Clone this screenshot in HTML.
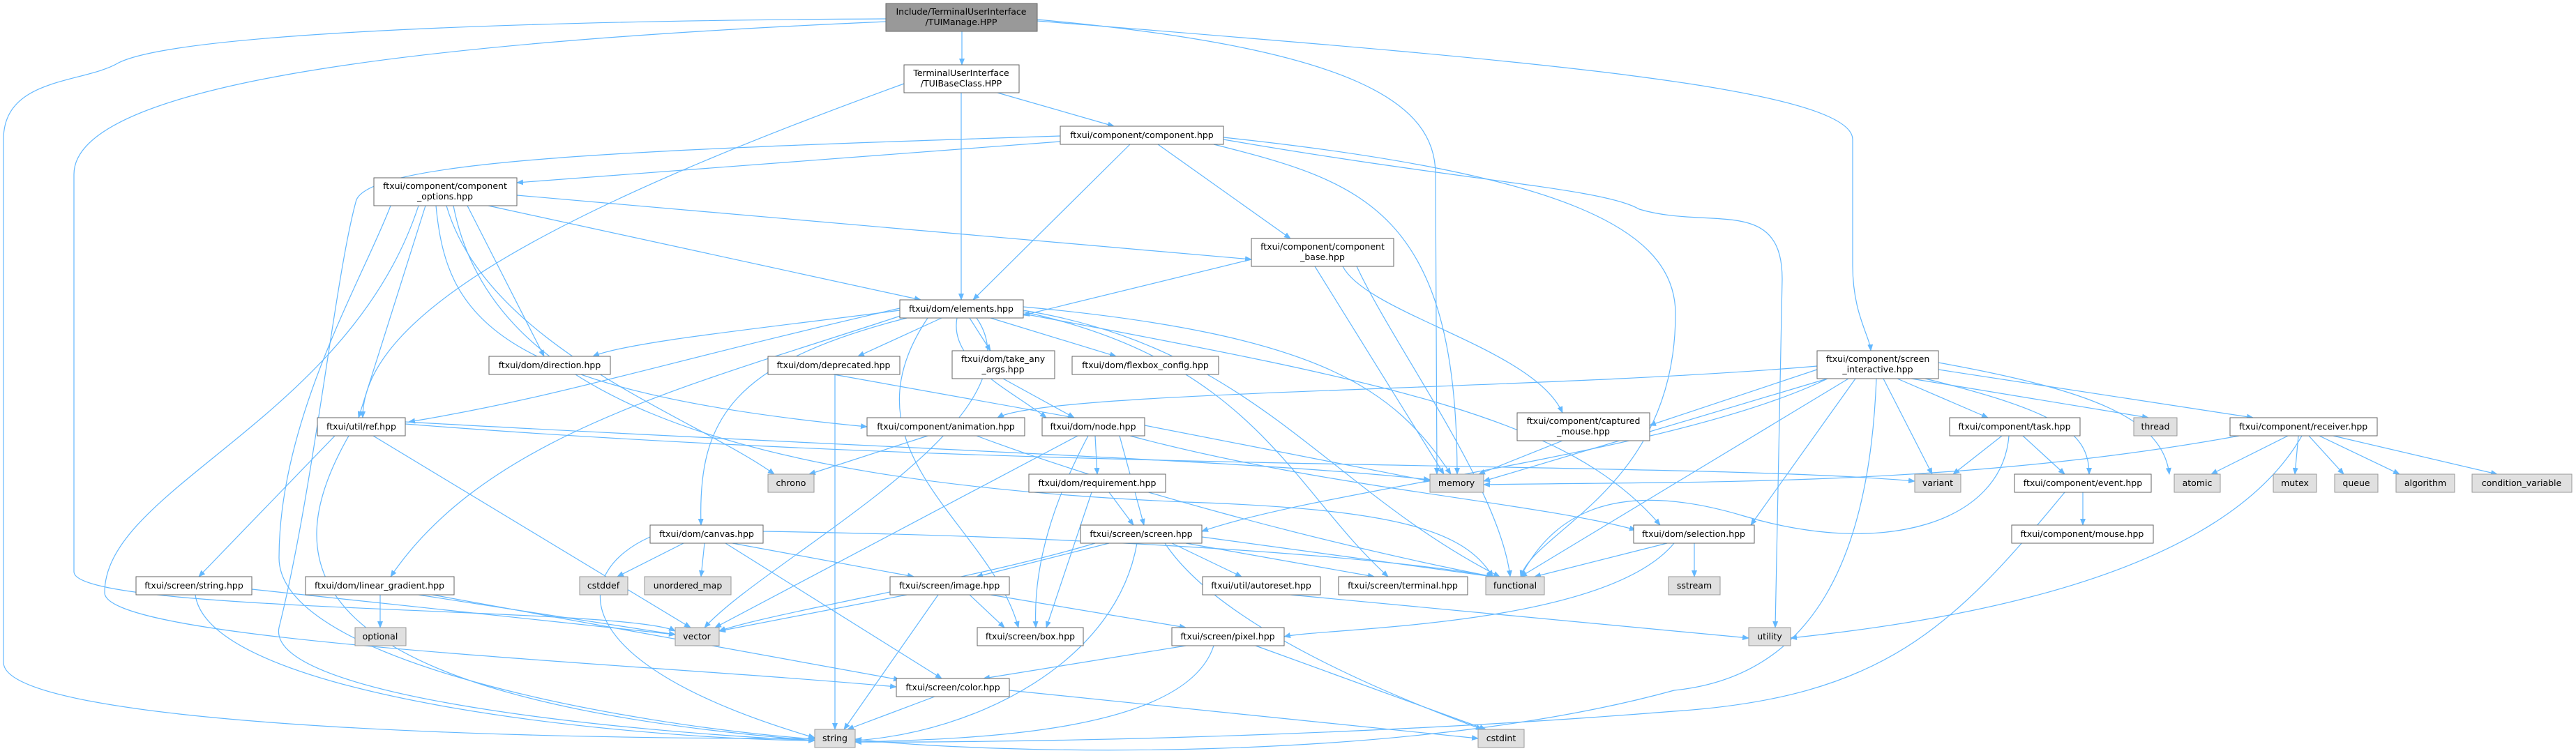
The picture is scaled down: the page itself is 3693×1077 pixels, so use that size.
<!DOCTYPE html>
<html><head><meta charset="utf-8"><style>
html,body{margin:0;padding:0;background:#fff;}
svg{display:block;}
text{font-family:"DejaVu Sans","Liberation Sans",sans-serif;font-size:12.5px;fill:#000;text-anchor:middle;}
.e{fill:none;stroke:#63b8ff;stroke-width:1.2;marker-end:url(#a);}
.n{fill:#fff;stroke:#666;stroke-width:1;}
.x{fill:#e0e0e0;stroke:#999;stroke-width:1;}
.m{fill:#999;stroke:#666;stroke-width:1;}
</style></head><body>
<svg width="3693" height="1077" viewBox="0 0 3693 1077" xmlns="http://www.w3.org/2000/svg">
<defs><marker id="a" markerWidth="10" markerHeight="8" refX="9" refY="4" orient="auto" markerUnits="userSpaceOnUse"><path d="M0,0 L10,4 L0,8 z" fill="#63b8ff"/></marker></defs>
<g>
<path class="e" d="M1379,45 L1379,93"/>
<path class="e" d="M1271,27 C700,30 250,50 170,90 C120,120 5,110 5,200 L5,950 C5,1030 600,1060 1168,1059"/>
<path class="e" d="M1271,31 C600,60 106,120 106,250 L106,820 C106,880 900,870 968,905"/>
<path class="e" d="M1487,28 C1950,70 2058,150 2058,250 L2060,680"/>
<path class="e" d="M1487,30 C2100,80 2656,120 2656,200 L2656,380 C2656,450 2680,480 2682,503"/>
<path class="e" d="M1430,133 L1597,181"/>
<path class="e" d="M1378,133 L1378,430"/>
<path class="e" d="M1296,120 C800,300 520,450 520,599"/>
<path class="e" d="M1520,203 L741,262"/>
<path class="e" d="M1620,207 L1395,430"/>
<path class="e" d="M1660,207 L1850,342"/>
<path class="e" d="M1520,195 C900,215 520,230 510,290 C480,400 450,700 400,900 C380,1000 900,1050 1168,1062"/>
<path class="e" d="M1740,207 C1950,260 2089,300 2089,680"/>
<path class="e" d="M1754,197 C2250,250 2402,330 2402,450 C2402,700 2200,760 2180,827"/>
<path class="e" d="M1754,200 C2100,260 2300,270 2350,300 C2450,330 2555,280 2555,400 L2545,900"/>
<path class="e" d="M741,280 L1794,372"/>
<path class="e" d="M700,295 L1320,430"/>
<path class="e" d="M670,295 L780,511"/>
<path class="e" d="M610,295 L514,599"/>
<path class="e" d="M625,295 C640,450 700,560 1243,612"/>
<path class="e" d="M640,295 C700,500 1000,600 1110,680"/>
<path class="e" d="M650,295 C700,550 1000,690 1700,720 C2000,730 2100,760 2140,827"/>
<path class="e" d="M560,295 C520,400 400,600 400,800 C400,950 900,1040 1168,1060"/>
<path class="e" d="M600,295 C500,600 150,700 150,850 C150,920 900,950 1285,985"/>
<path class="e" d="M1794,372 L1467,452"/>
<path class="e" d="M1925,382 C1960,450 2200,500 2240,592"/>
<path class="e" d="M1885,382 L2070,680"/>
<path class="e" d="M1945,382 C2000,500 2150,700 2165,827"/>
<path class="e" d="M1290,445 C1100,470 900,490 850,511"/>
<path class="e" d="M1350,456 L1230,511"/>
<path class="e" d="M1390,456 L1420,503"/>
<path class="e" d="M1420,456 L1600,511"/>
<path class="e" d="M1372,456 C1360,520 1450,560 1500,599"/>
<path class="e" d="M1290,442 C950,520 800,570 586,605"/>
<path class="e" d="M1300,456 C1050,520 1000,600 1005,753"/>
<path class="e" d="M1300,450 C1000,550 700,620 560,827"/>
<path class="e" d="M1330,456 C1200,650 1420,750 1460,900"/>
<path class="e" d="M1467,440 C1900,480 2000,560 2080,680"/>
<path class="e" d="M1467,445 C1800,500 1900,700 2150,827"/>
<path class="e" d="M1467,447 C1800,520 1850,700 1990,827"/>
<path class="e" d="M1400,456 C1500,600 1100,800 1010,900"/>
<path class="e" d="M1467,450 C2000,550 2250,600 2380,753"/>
<path class="e" d="M1195,537 L1540,599"/>
<path class="e" d="M1197,537 L1197,1046"/>
<path class="e" d="M1438,543 L1540,599"/>
<path class="e" d="M2605,530 L2365,610"/>
<path class="e" d="M2620,543 L2127,690"/>
<path class="e" d="M2720,543 L2850,599"/>
<path class="e" d="M2740,543 L3080,599"/>
<path class="e" d="M2779,530 L3230,599"/>
<path class="e" d="M2700,543 L2770,680"/>
<path class="e" d="M2760,543 C2950,590 2995,620 2995,680"/>
<path class="e" d="M2779,520 C3000,560 3100,600 3110,680"/>
<path class="e" d="M2660,543 L2510,753"/>
<path class="e" d="M2650,543 L2180,827"/>
<path class="e" d="M2690,543 C2680,800 2600,970 2400,990 C2000,1100 1400,1080 1226,1060"/>
<path class="e" d="M2605,525 C2200,560 1500,560 1430,599"/>
<path class="e" d="M2620,543 C2400,650 1900,700 1723,762"/>
<path class="e" d="M480,625 L285,827"/>
<path class="e" d="M500,625 C400,800 400,1000 1168,1062"/>
<path class="e" d="M535,625 L990,900"/>
<path class="e" d="M581,605 C1200,640 1800,660 2050,688"/>
<path class="e" d="M581,608 C1500,680 2400,660 2745,690"/>
<path class="e" d="M1330,625 L1160,680"/>
<path class="e" d="M1400,625 C1600,700 1900,780 2140,827"/>
<path class="e" d="M1570,625 L1573,680"/>
<path class="e" d="M1605,625 L1640,753"/>
<path class="e" d="M1560,625 C1520,700 1480,800 1485,900"/>
<path class="e" d="M1545,625 L1025,900"/>
<path class="e" d="M1641,610 C1800,640 1950,670 2050,690"/>
<path class="e" d="M1620,625 C1900,700 2200,720 2345,760"/>
<path class="e" d="M1590,706 L1625,753"/>
<path class="e" d="M1565,706 L1500,900"/>
<path class="e" d="M980,779 L885,827"/>
<path class="e" d="M1010,779 L1005,827"/>
<path class="e" d="M1050,779 L1310,827"/>
<path class="e" d="M1040,779 L1350,973"/>
<path class="e" d="M932,770 C820,820 800,950 1168,1058"/>
<path class="e" d="M1094,762 C1600,770 2000,800 2140,827"/>
<path class="e" d="M1590,779 L1400,827"/>
<path class="e" d="M1570,779 C1400,830 1100,880 1031,905"/>
<path class="e" d="M1630,779 C1600,950 1400,1050 1226,1062"/>
<path class="e" d="M1680,779 L1780,827"/>
<path class="e" d="M1700,779 L1970,827"/>
<path class="e" d="M1723,770 L2140,827"/>
<path class="e" d="M1670,779 C1750,900 2000,1000 2125,1046"/>
<path class="e" d="M280,853 C300,1000 900,1060 1168,1062"/>
<path class="e" d="M361,845 L968,910"/>
<path class="e" d="M545,853 L545,900"/>
<path class="e" d="M600,853 L968,910"/>
<path class="e" d="M620,853 L1290,975"/>
<path class="e" d="M1300,853 L1031,905"/>
<path class="e" d="M1390,853 L1440,900"/>
<path class="e" d="M1420,853 L1700,900"/>
<path class="e" d="M1345,853 L1210,1046"/>
<path class="e" d="M1850,853 L2507,915"/>
<path class="e" d="M1700,926 L1410,973"/>
<path class="e" d="M1740,926 C1700,1050 1400,1060 1226,1064"/>
<path class="e" d="M1800,926 L2130,1046"/>
<path class="e" d="M1340,999 L1215,1046"/>
<path class="e" d="M1447,990 L2119,1059"/>
<path class="e" d="M2429,779 L2429,827"/>
<path class="e" d="M2390,779 L2200,827"/>
<path class="e" d="M2400,779 C2300,900 1900,900 1841,913"/>
<path class="e" d="M2870,625 L2800,680"/>
<path class="e" d="M2900,625 L2960,680"/>
<path class="e" d="M2880,625 C2870,750 2700,800 2500,740 C2300,680 2220,750 2180,827"/>
<path class="e" d="M3210,625 C2800,700 2400,690 2127,695"/>
<path class="e" d="M3280,625 L3170,680"/>
<path class="e" d="M3295,625 L3290,680"/>
<path class="e" d="M3310,625 L3360,680"/>
<path class="e" d="M3325,625 L3440,680"/>
<path class="e" d="M3345,625 L3580,680"/>
<path class="e" d="M3300,625 C3200,800 2900,880 2567,915"/>
<path class="e" d="M2986,706 L2986,753"/>
<path class="e" d="M2960,706 C2800,900 2700,1000 2400,1020 C1900,1060 1400,1065 1226,1064"/>
<path class="e" d="M2240,632 L2120,680"/>
</g>
<g>
<rect class="m" x="1270" y="5" width="217" height="40"/><text x="1378" y="21">Include/TerminalUserInterface</text><text x="1378" y="36">/TUIManage.HPP</text>
<rect class="n" x="1296" y="93" width="165" height="40"/><text x="1378" y="109">TerminalUserInterface</text><text x="1378" y="124">/TUIBaseClass.HPP</text>
<rect class="n" x="1520" y="181" width="234" height="26"/><text x="1637" y="198">ftxui/component/component.hpp</text>
<rect class="n" x="536" y="255" width="205" height="40"/><text x="638" y="271">ftxui/component/component</text><text x="638" y="286">_options.hpp</text>
<rect class="n" x="1794" y="342" width="204" height="40"/><text x="1896" y="358">ftxui/component/component</text><text x="1896" y="373">_base.hpp</text>
<rect class="n" x="1290" y="430" width="177" height="26"/><text x="1378" y="447">ftxui/dom/elements.hpp</text>
<rect class="n" x="701" y="511" width="174" height="26"/><text x="788" y="528">ftxui/dom/direction.hpp</text>
<rect class="n" x="1101" y="511" width="189" height="26"/><text x="1195" y="528">ftxui/dom/deprecated.hpp</text>
<rect class="n" x="1365" y="503" width="147" height="40"/><text x="1438" y="519">ftxui/dom/take_any</text><text x="1438" y="534">_args.hpp</text>
<rect class="n" x="1537" y="511" width="210" height="26"/><text x="1642" y="528">ftxui/dom/flexbox_config.hpp</text>
<rect class="n" x="2605" y="503" width="174" height="40"/><text x="2692" y="519">ftxui/component/screen</text><text x="2692" y="534">_interactive.hpp</text>
<rect class="n" x="455" y="599" width="126" height="26"/><text x="518" y="616">ftxui/util/ref.hpp</text>
<rect class="n" x="1243" y="599" width="226" height="26"/><text x="1356" y="616">ftxui/component/animation.hpp</text>
<rect class="n" x="1494" y="599" width="147" height="26"/><text x="1567" y="616">ftxui/dom/node.hpp</text>
<rect class="n" x="2175" y="592" width="190" height="40"/><text x="2270" y="608">ftxui/component/captured</text><text x="2270" y="623">_mouse.hpp</text>
<rect class="n" x="2795" y="599" width="187" height="26"/><text x="2888" y="616">ftxui/component/task.hpp</text>
<rect class="x" x="3059" y="599" width="62" height="26"/><text x="3090" y="616">thread</text>
<rect class="n" x="3197" y="599" width="211" height="26"/><text x="3302" y="616">ftxui/component/receiver.hpp</text>
<rect class="x" x="1101" y="680" width="66" height="26"/><text x="1134" y="697">chrono</text>
<rect class="n" x="1475" y="680" width="196" height="26"/><text x="1573" y="697">ftxui/dom/requirement.hpp</text>
<rect class="x" x="2050" y="680" width="77" height="26"/><text x="2088" y="697">memory</text>
<rect class="x" x="2745" y="680" width="66" height="26"/><text x="2778" y="697">variant</text>
<rect class="n" x="2888" y="680" width="196" height="26"/><text x="2986" y="697">ftxui/component/event.hpp</text>
<rect class="x" x="3117" y="680" width="66" height="26"/><text x="3150" y="697">atomic</text>
<rect class="x" x="3259" y="680" width="62" height="26"/><text x="3290" y="697">mutex</text>
<rect class="x" x="3347" y="680" width="62" height="26"/><text x="3378" y="697">queue</text>
<rect class="x" x="3435" y="680" width="84" height="26"/><text x="3477" y="697">algorithm</text>
<rect class="x" x="3544" y="680" width="143" height="26"/><text x="3615" y="697">condition_variable</text>
<rect class="n" x="932" y="753" width="162" height="26"/><text x="1013" y="770">ftxui/dom/canvas.hpp</text>
<rect class="n" x="1549" y="753" width="174" height="26"/><text x="1636" y="770">ftxui/screen/screen.hpp</text>
<rect class="n" x="2342" y="753" width="173" height="26"/><text x="2428" y="770">ftxui/dom/selection.hpp</text>
<rect class="n" x="2884" y="753" width="203" height="26"/><text x="2985" y="770">ftxui/component/mouse.hpp</text>
<rect class="n" x="195" y="827" width="166" height="26"/><text x="278" y="844">ftxui/screen/string.hpp</text>
<rect class="n" x="438" y="827" width="213" height="26"/><text x="544" y="844">ftxui/dom/linear_gradient.hpp</text>
<rect class="x" x="831" y="827" width="69" height="26"/><text x="865" y="844">cstddef</text>
<rect class="x" x="924" y="827" width="124" height="26"/><text x="986" y="844">unordered_map</text>
<rect class="n" x="1276" y="827" width="171" height="26"/><text x="1361" y="844">ftxui/screen/image.hpp</text>
<rect class="n" x="1724" y="827" width="169" height="26"/><text x="1808" y="844">ftxui/util/autoreset.hpp</text>
<rect class="n" x="1919" y="827" width="185" height="26"/><text x="2011" y="844">ftxui/screen/terminal.hpp</text>
<rect class="x" x="2130" y="827" width="84" height="26"/><text x="2172" y="844">functional</text>
<rect class="x" x="2392" y="827" width="74" height="26"/><text x="2429" y="844">sstream</text>
<rect class="x" x="509" y="900" width="73" height="26"/><text x="545" y="917">optional</text>
<rect class="x" x="968" y="900" width="63" height="26"/><text x="999" y="917">vector</text>
<rect class="n" x="1401" y="900" width="152" height="26"/><text x="1477" y="917">ftxui/screen/box.hpp</text>
<rect class="n" x="1680" y="900" width="161" height="26"/><text x="1760" y="917">ftxui/screen/pixel.hpp</text>
<rect class="x" x="2507" y="900" width="60" height="26"/><text x="2537" y="917">utility</text>
<rect class="n" x="1285" y="973" width="162" height="26"/><text x="1366" y="990">ftxui/screen/color.hpp</text>
<rect class="x" x="1168" y="1046" width="58" height="26"/><text x="1197" y="1063">string</text>
<rect class="x" x="2119" y="1046" width="66" height="26"/><text x="2152" y="1063">cstdint</text>
</g>
</svg>
</body></html>
